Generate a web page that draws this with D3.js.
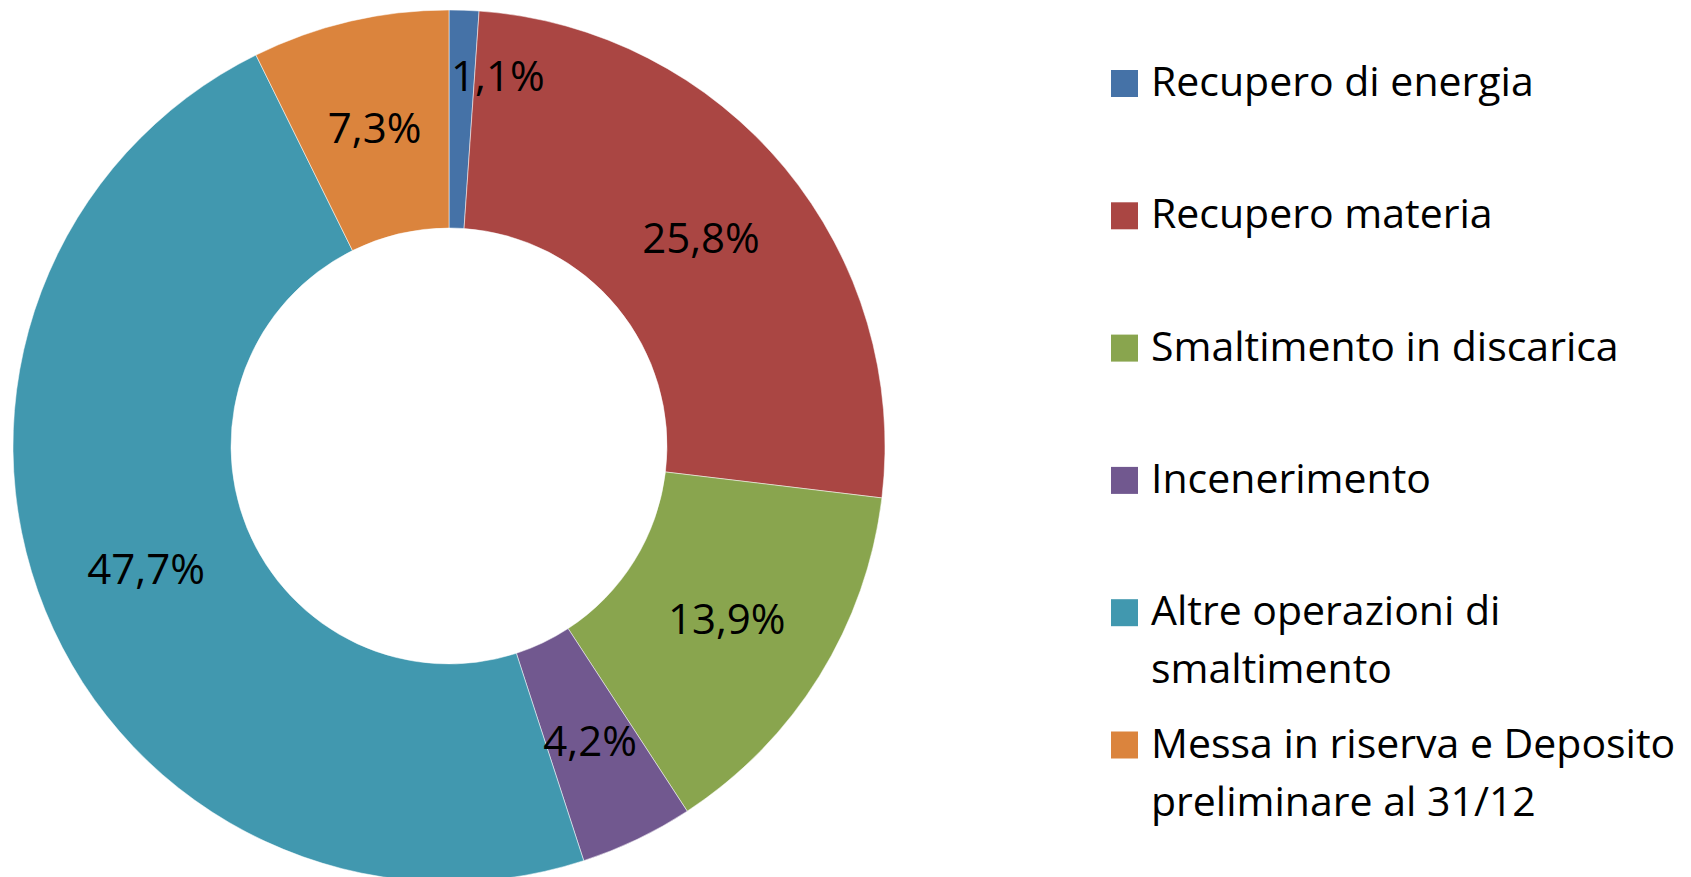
<!DOCTYPE html>
<html lang="it">

<head>
    <meta charset="UTF-8">
    <title>Destinazione rifiuti</title>
    <style>
        body {
            margin: 0;
            background: #fff;
        }

        svg {
            display: block;
            font-family: "Open Sans", sans-serif;
        }
    </style>
</head>

<body>
    <svg></svg>
    <script src="https://d3js.org/d3.v7.min.js"></script>
    <script>
        // categorie e valori (percentuali)
        var categories = [
            "Recupero di energia",
            "Recupero materia",
            "Smaltimento in discarica",
            "Incenerimento",
            "Altre operazioni di smaltimento",
            "Messa in riserva e Deposito preliminare al 31/12"
        ];
        var values = [1.1, 25.8, 13.9, 4.2, 47.7, 7.3];
        var colors = ["#4572A7", "#AA4643", "#89A54E", "#71588F", "#4198AF", "#DB843D"];

        var svgWidth = 1691,
            svgHeight = 877;
        var cx = 449,
            cy = 446,
            outerR = 436,
            innerR = 218;

        var svg = d3.select('svg')
            .attr("width", svgWidth)
            .attr("height", svgHeight);

        var data = categories.map(function(c, i) {
            return { name: c, value: values[i], color: colors[i] };
        });

        var pie = d3.pie()
            .sort(null)
            .value(function(d) { return d.value; });
        var arc = d3.arc()
            .innerRadius(innerR)
            .outerRadius(outerR);
        // etichette piccole spostate verso l'esterno (come fa Excel)
        var arcOuter = d3.arc()
            .innerRadius(outerR * 0.85)
            .outerRadius(outerR * 0.85);

        var g = svg.append("g")
            .attr("transform", "translate(" + cx + "," + cy + ")");

        var arcs = pie(data);

        g.selectAll("path")
            .data(arcs)
            .enter().append("path")
            .attr("d", arc)
            .attr("fill", function(d) { return d.data.color; })
            .attr("stroke", "#fff")
            .attr("stroke-opacity", 0.5)
            .attr("stroke-width", 1);

        var fmt = function(v) { return d3.format(".1f")(v).replace(".", ",") + "%"; };

        g.selectAll("text.lbl")
            .data(arcs)
            .enter().append("text")
            .attr("class", "lbl")
            .attr("transform", function(d) {
                var p = d.data.value < 2 ? arcOuter.centroid(d) : arc.centroid(d);
                if (d.data.value < 2) p[0] += 36;
                return "translate(" + p[0] + "," + p[1] + ")";
            })
            .attr("text-anchor", "middle")
            .attr("dy", "0.36em")
            .attr("font-size", 42)
            .attr("fill", "#000")
            .text(function(d) { return fmt(d.data.value); });

        // legenda
        var legendX = 1111,
            legendY = 96,
            rowStep = 132.3,
            lineH = 58,
            box = 27,
            textX = 40,
            maxW = 560;

        var legend = svg.append("g");
        var items = legend.selectAll("g")
            .data(data)
            .enter().append("g")
            .attr("transform", function(d, i) {
                return "translate(" + legendX + "," + (legendY + i * rowStep) + ")";
            });

        items.append("rect")
            .attr("x", 0)
            .attr("y", -26)
            .attr("width", box)
            .attr("height", box)
            .attr("fill", function(d) { return d.color; });

        items.each(function(d) {
            var t = d3.select(this).append("text")
                .attr("x", textX)
                .attr("y", 0)
                .attr("font-size", 41)
                .attr("fill", "#000");
            var words = d.name.split(" "),
                line = [];
            var ts = t.append("tspan").attr("x", textX).attr("dy", 0);
            words.forEach(function(w) {
                line.push(w);
                ts.text(line.join(" "));
                if (ts.node().getComputedTextLength() > maxW && line.length > 1) {
                    line.pop();
                    ts.text(line.join(" "));
                    line = [w];
                    ts = t.append("tspan").attr("x", textX).attr("dy", lineH).text(w);
                }
            });
        });
    </script>
</body>

</html>
